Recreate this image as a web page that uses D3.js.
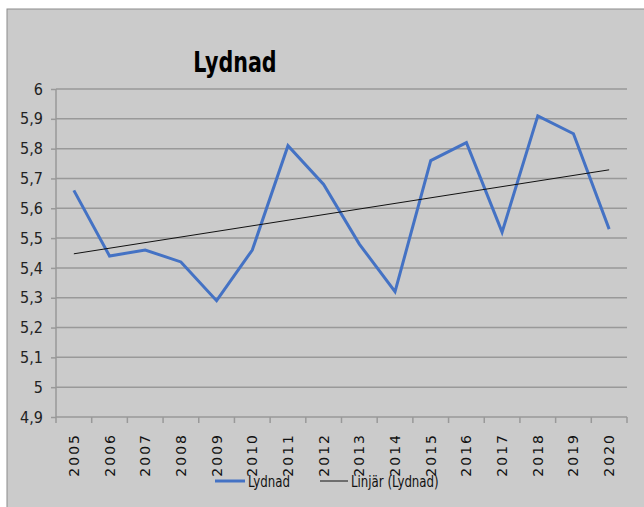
<!DOCTYPE html>
<html>
<head>
<meta charset="utf-8">
<script src="https://cdn.jsdelivr.net/npm/d3@7"></script>
<style>
  body { margin: 0; background: #fff; }
  .narrow { font-family: "Liberation Sans Narrow", "DejaVu Sans Condensed", "Liberation Sans", sans-serif; }
</style>
</head>
<body>
<div id="chart"></div>
<script>
const years = ["2005","2006","2007","2008","2009","2010","2011","2012","2013","2014","2015","2016","2017","2018","2019","2020"];
const lydnad = [5.66, 5.44, 5.46, 5.42, 5.29, 5.46, 5.81, 5.68, 5.48, 5.32, 5.76, 5.82, 5.52, 5.91, 5.85, 5.53];
const yTicks = [4.9, 5, 5.1, 5.2, 5.3, 5.4, 5.5, 5.6, 5.7, 5.8, 5.9, 6];

const W = 644, H = 507;
const margin = {top: 89, right: 17, bottom: 90, left: 56},
      width = W - margin.left - margin.right,
      height = H - margin.top - margin.bottom;

const root = d3.select("#chart").append("svg")
  .attr("width", W).attr("height", H);

// gray chart area
root.append("rect")
  .attr("x", 7).attr("y", 9)
  .attr("width", W).attr("height", H)
  .attr("fill", "#cbcbcb")
  .attr("stroke", "#8c8c8c")
  .attr("stroke-width", 1);

root.append("text")
  .attr("class", "narrow")
  .attr("transform", "translate(235,72) scale(0.82,1)")
  .attr("text-anchor", "middle")
  .style("font-size", "28px")
  .style("font-weight", "bold")
  .attr("fill", "#000")
  .text("Lydnad");

const svg = root.append("g")
  .attr("transform", `translate(${margin.left},${margin.top})`);

const x = d3.scaleBand().domain(years).range([0, width]);
const y = d3.scaleLinear().domain([4.9, 6]).range([height, 0]);

// gridlines
svg.selectAll(".grid")
  .data(yTicks.slice(1))
  .enter().append("line")
  .attr("x1", 0).attr("x2", width)
  .attr("y1", d => y(d)).attr("y2", d => y(d))
  .attr("stroke", "#999")
  .attr("stroke-width", 1.5);

const fmt = d => String(+d.toFixed(1)).replace(".", ",");

const yAxis = svg.append("g")
  .call(d3.axisLeft(y).tickValues(yTicks).tickFormat(fmt).tickSize(5).tickPadding(8));
yAxis.selectAll("line, path").attr("stroke", "#999").attr("stroke-width", 1.5);
yAxis.select(".domain").attr("d", `M0,0V${height}`);
yAxis.selectAll("text")
  .attr("class", "narrow")
  .style("font-size", "16px")
  .attr("fill", "#222");

// x axis with ticks at band boundaries
const xAxis = svg.append("g").attr("transform", `translate(0,${height})`);
xAxis.append("line")
  .attr("x1", 0).attr("x2", width)
  .attr("stroke", "#999").attr("stroke-width", 1.5);
xAxis.selectAll(".tk")
  .data(d3.range(years.length + 1))
  .enter().append("line")
  .attr("x1", i => i * x.bandwidth()).attr("x2", i => i * x.bandwidth())
  .attr("y1", 0).attr("y2", 6)
  .attr("stroke", "#999").attr("stroke-width", 1.5);
xAxis.selectAll(".lbl")
  .data(years)
  .enter().append("text")
  .attr("transform", d => `translate(${x(d) + x.bandwidth() / 2 + 5},16) rotate(-90)`)
  .attr("text-anchor", "end")
  .style("font-family", "DejaVu Sans, sans-serif")
  .style("font-size", "14px")
  .style("letter-spacing", "2px")
  .attr("fill", "#111")
  .text(d => d);

// trendline (linear regression)
const idx = d3.range(lydnad.length);
const mx = d3.mean(idx), my = d3.mean(lydnad);
const slope = d3.sum(idx, i => (i - mx) * (lydnad[i] - my)) / d3.sum(idx, i => (i - mx) ** 2);
const icpt = my - slope * mx;
const trend = [0, lydnad.length - 1].map(i => ({year: years[i], v: icpt + slope * i}));

const cx = d => x(d) + x.bandwidth() / 2;

svg.append("path")
  .datum(lydnad.map((v, i) => ({year: years[i], v})))
  .attr("fill", "none")
  .attr("stroke", "#4472c4")
  .attr("stroke-width", 3)
  .attr("d", d3.line().x(d => cx(d.year)).y(d => y(d.v)));

svg.append("path")
  .datum(trend)
  .attr("fill", "none")
  .attr("stroke", "#111")
  .attr("stroke-width", 1)
  .attr("d", d3.line().x(d => cx(d.year)).y(d => y(d.v)));

// legend
const legend = root.append("g").attr("transform", "translate(0,481)");
legend.append("line").attr("x1", 215).attr("x2", 245)
  .attr("stroke", "#4472c4").attr("stroke-width", 3);
legend.append("text").attr("class", "narrow")
  .attr("transform", "translate(248,6) scale(0.82,1)")
  .style("font-size", "16px").attr("fill", "#111")
  .text("Lydnad");
legend.append("line").attr("x1", 320).attr("x2", 348)
  .attr("stroke", "#111").attr("stroke-width", 1);
legend.append("text").attr("class", "narrow")
  .attr("transform", "translate(351,6) scale(0.82,1)")
  .style("font-size", "16px").attr("fill", "#111")
  .text("Linjär (Lydnad)");
</script>
</body>
</html>
